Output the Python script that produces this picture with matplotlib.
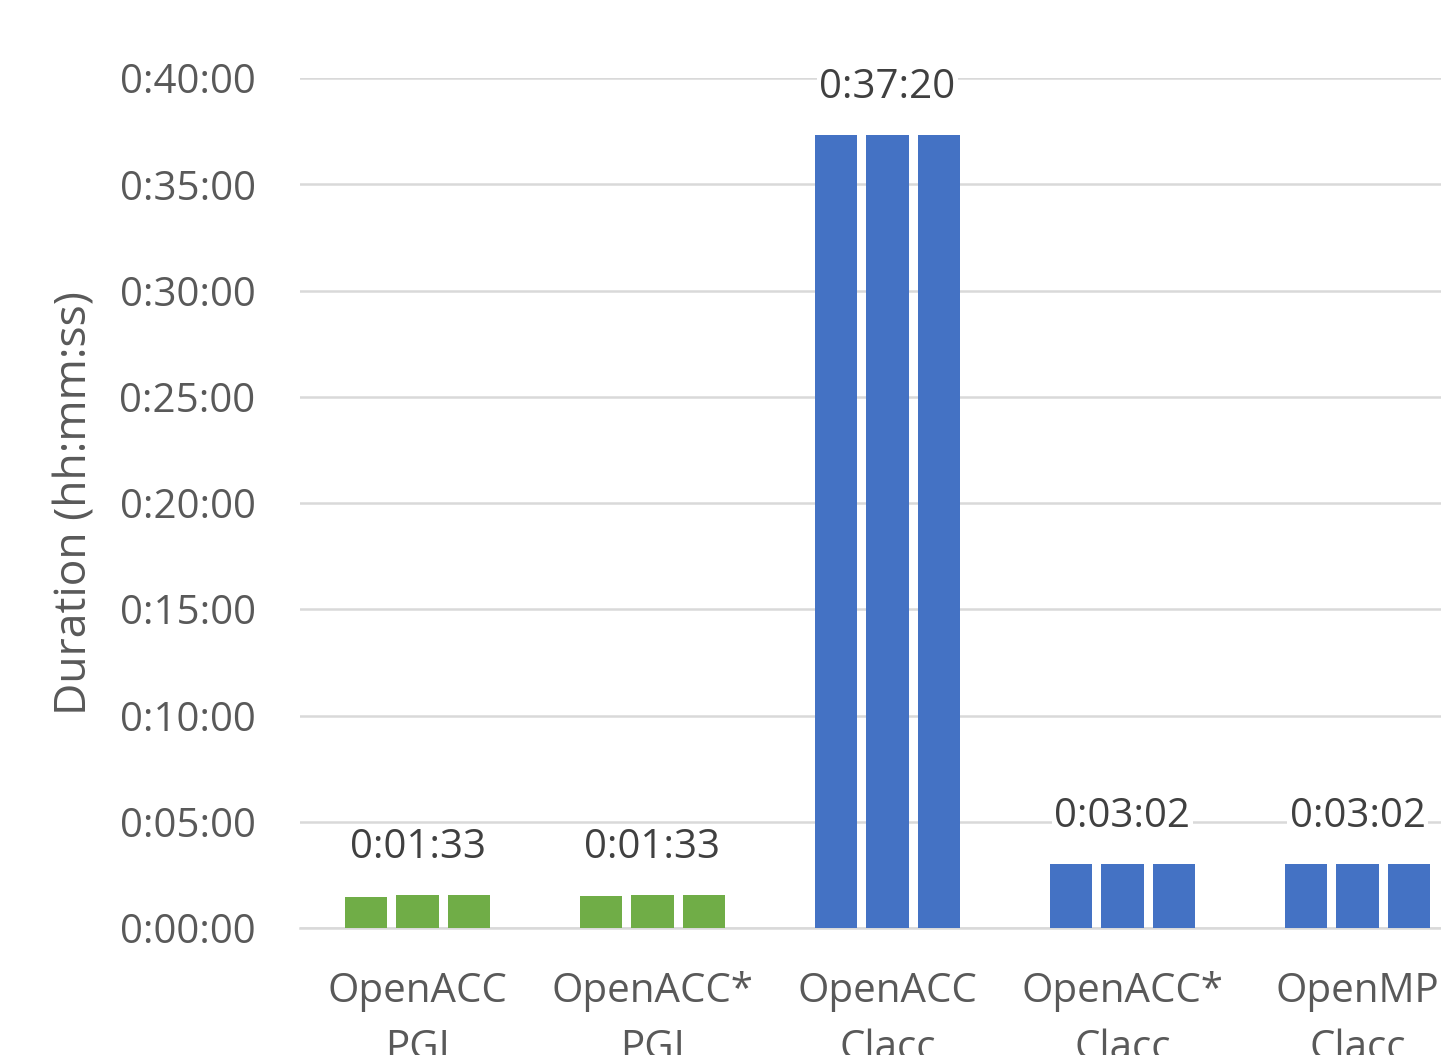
import matplotlib
matplotlib.use('Agg')
import matplotlib.pyplot as plt
import numpy as np

# Durations in seconds, three runs per configuration
groups = ['OpenACC\nPGI', 'OpenACC*\nPGI', 'OpenACC\nClacc', 'OpenACC*\nClacc', 'OpenMP\nClacc']
run1 = [87, 90, 2240, 180, 182]
run2 = [93, 93, 2240, 182, 182]
run3 = [93, 93, 2240, 182, 182]
group_colors = ['#70ad47', '#70ad47', '#4472c4', '#4472c4', '#4472c4']
yticks = list(range(0, 2401, 300))


def hms(sec):
    sec = int(round(sec))
    return f"{sec // 3600}:{(sec % 3600) // 60:02d}:{sec % 60:02d}"


plt.rcParams['font.family'] = ['Open Sans', 'DejaVu Sans']

fig = plt.figure(figsize=(14.41, 10.55), dpi=100)
# axes run past the right edge, like the cropped original
ax = fig.add_axes([300 / 1441, 127 / 1055, 1175 / 1441, 850 / 1055])

x = np.arange(len(groups))
step = 0.221
width = 0.179
for i, run in enumerate([run1, run2, run3]):
    ax.bar(x + (i - 1) * step, run, width=width, color=group_colors, zorder=3)

# one label per group, above the middle bar
for xi, v in zip(x, run2):
    ax.annotate(hms(v), (xi, v), xytext=(0, 34), textcoords='offset points',
                ha='center', va='center', fontsize=29, color='#404040', zorder=4,
                bbox=dict(boxstyle='square,pad=0.05', fc='white', ec='none'))

ax.set_xlim(-0.5, len(groups) - 0.5)
ax.set_ylim(0, 2400)
ax.set_yticks(yticks)
ax.set_yticklabels([hms(t) for t in yticks])
ax.set_xticks(x)
ax.set_xticklabels(groups, linespacing=1.55)
ax.tick_params(axis='y', length=0, pad=32, labelsize=29, labelcolor='#595959')
ax.tick_params(axis='x', length=0, pad=31, labelsize=29, labelcolor='#595959')
ax.set_ylabel('Duration (hh:mm:ss)', fontsize=32, color='#595959', labelpad=16)

ax.grid(axis='y', color='#d9d9d9', linewidth=1.8, zorder=0)
for s in ['top', 'right', 'left']:
    ax.spines[s].set_visible(False)
ax.spines['bottom'].set_color('#d9d9d9')
ax.spines['bottom'].set_linewidth(1.8)

fig.savefig('out.png', dpi=100)
